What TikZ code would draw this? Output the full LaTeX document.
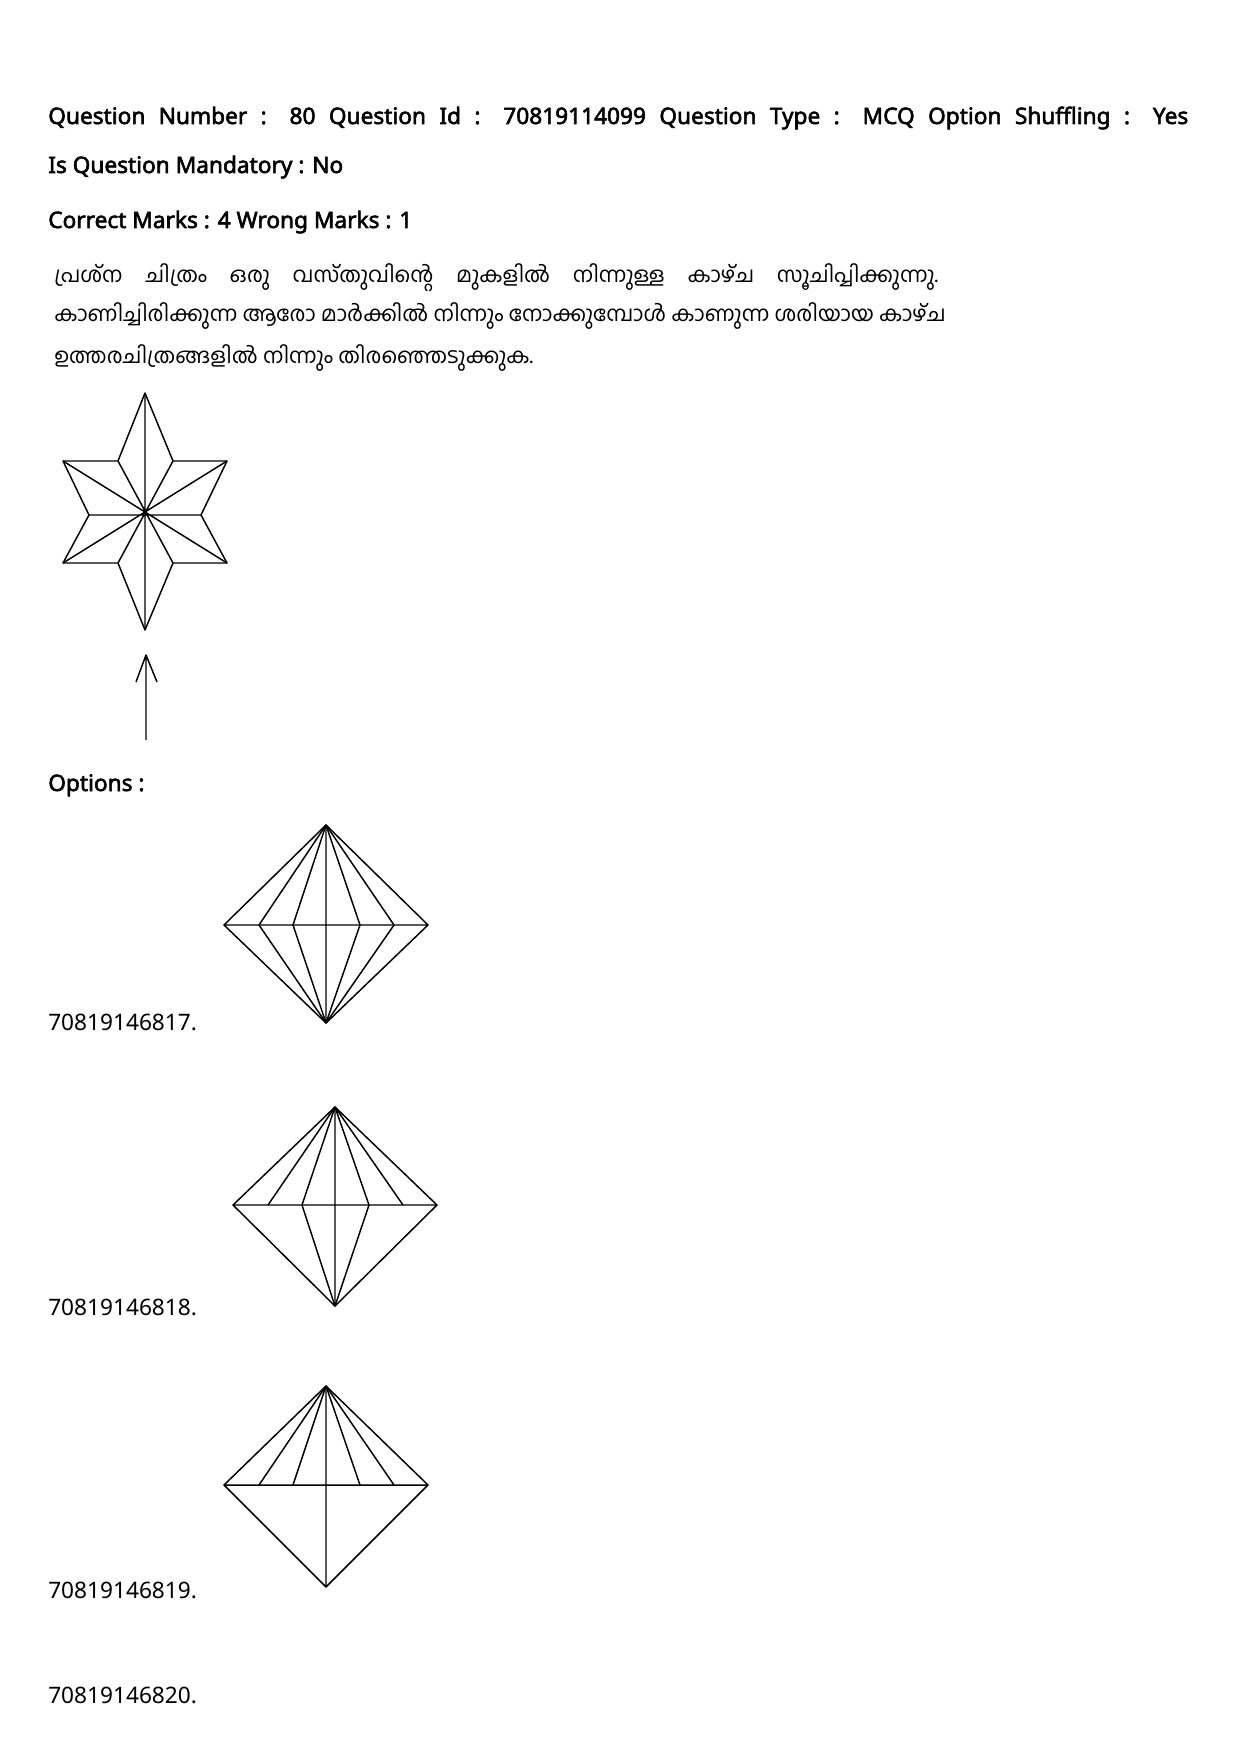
\documentclass[tikz,border=0pt]{standalone}
\usepackage{fontspec}
\setmainfont{Noto Sans}
\newfontfamily\hdfont{Noto Sans}[FakeBold=2.5]
\newfontfamily\malfont[Script=Malayalam]{Hind Kochi}
\begin{document}
\begin{tikzpicture}[x=0.75pt,y=-0.75pt,
  hd/.style={anchor=base west,inner sep=0,font=\hdfont\fontsize{17}{20}\selectfont},
  lb/.style={anchor=base west,inner sep=0,font=\fontsize{17}{20}\selectfont},
  ml/.style={anchor=base west,inner sep=0,font=\malfont\fontsize{16}{20}\selectfont},
  fig/.style={line width=1.1pt,line join=round}]
\useasboundingbox[fill=white] (0,0) rectangle (1240,1755);
\node[hd] (h1) at (48,124) {\makebox[855pt][s]{Question Number : 80 Question Id : 70819114099 Question Type : MCQ Option Shuffling : Yes}};
\node[hd] (h2) at (48,173) {Is Question Mandatory : No};
\node[hd] (h3) at (48,228) {Correct Marks : 4 Wrong Marks : 1};
\node[ml] (m1) at (54,282) {\makebox[663pt][s]{പ്രശ്ന ചിത്രം ഒരു വസ്തുവിന്റെ മുകളിൽ നിന്നുള്ള കാഴ്ച സൂചിപ്പിക്കുന്നു.}};
\node[ml] (m2) at (54,321) {കാണിച്ചിരിക്കുന്ന ആരോ മാർക്കിൽ നിന്നും നോക്കുമ്പോൾ കാണുന്ന ശരിയായ കാഴ്ച};
\node[ml] (m3) at (54,363) {ഉത്തരചിത്രങ്ങളിൽ നിന്നും തിരഞ്ഞെടുക്കുക.};
% star
\draw[fig] (145,393) -- (173,461) -- (227,461) -- (201,515) -- (227,563) -- (173,563) -- (145,630) -- (118,563) -- (63,563) -- (89,515) -- (63,461) -- (118,461) -- cycle;
\draw[fig] (145,393) -- (145,630) (63,461) -- (227,563) (227,461) -- (63,563)
  (118,461) -- (173,563) (173,461) -- (118,563) (89,515) -- (201,515);
\coordinate (at) at (146,655);
\coordinate (ab) at (146,740);
\draw[fig] (ab) -- (at) (136,682) -- (at) -- (157,682);
\node[hd] (op) at (48,791) {Options :};
% option 1
\draw[fig] (326,825) -- (428,925) -- (326,1023) -- (224,925) -- cycle (224,925) -- (428,925) (326,825) -- (326,1023);
\foreach \u in {259,293,360,394} \draw[fig] (326,825) -- (\u,925) -- (326,1023);
\node[lb] (l1) at (48,1030) {70819146817.};
% option 2
\draw[fig] (335,1107) -- (437,1205) -- (335,1306) -- (233,1205) -- cycle (233,1205) -- (437,1205) (335,1107) -- (335,1306);
\foreach \u in {268,302,369,403} \draw[fig] (335,1107) -- (\u,1205);
\draw[fig] (302,1205) -- (335,1306) -- (369,1205);
\node[lb] (l2) at (48,1315) {70819146818.};
% option 3
\draw[fig] (326,1386) -- (428,1485) -- (326,1587) -- (224,1485) -- cycle (224,1485) -- (428,1485) (326,1386) -- (326,1587);
\foreach \u in {259,293,360,394} \draw[fig] (326,1386) -- (\u,1485);
\node[lb] (l3) at (48,1598) {70819146819.};
\node[lb] (l4) at (48,1703) {70819146820.};
\end{tikzpicture}
\end{document}
